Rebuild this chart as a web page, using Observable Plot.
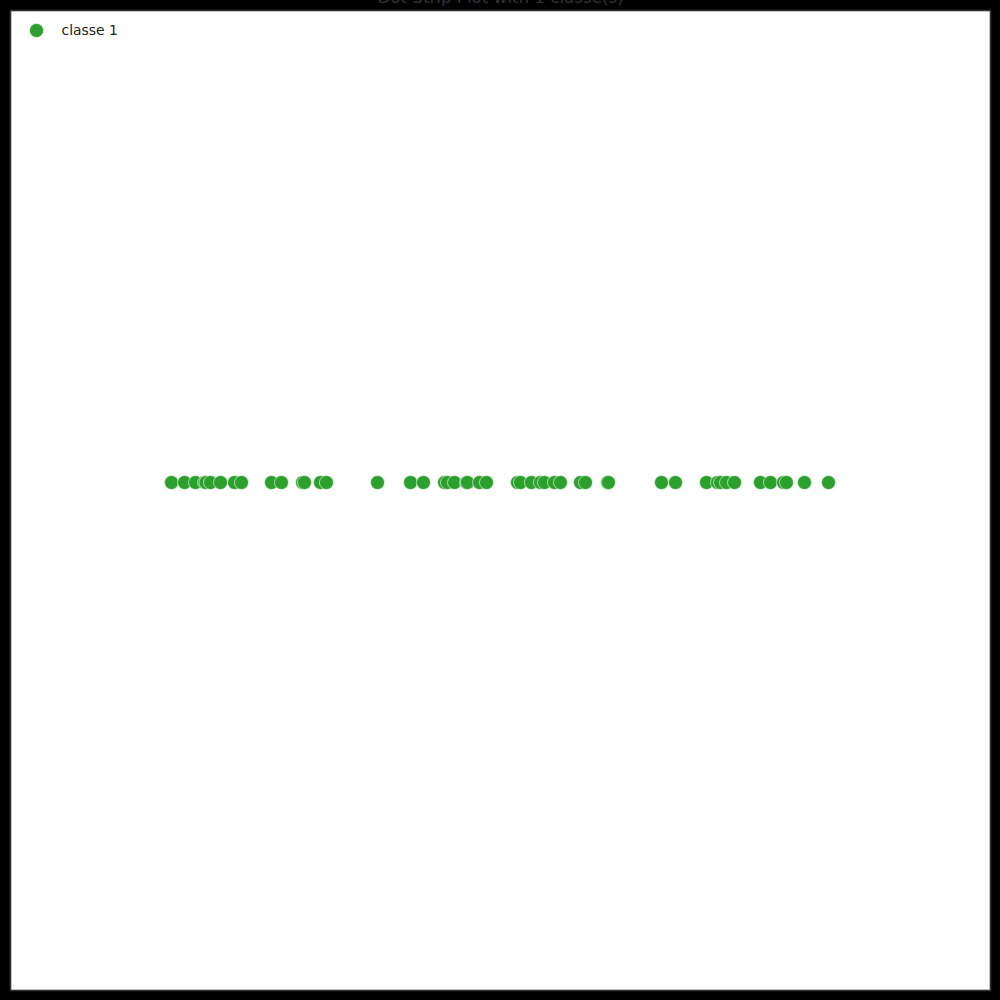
<!DOCTYPE html>
<html>
<head>
<meta charset="utf-8">
<script src="https://cdn.jsdelivr.net/npm/d3@7"></script>
<script src="https://cdn.jsdelivr.net/npm/@observablehq/plot@0.6"></script>
<style>
  html, body { margin: 0; padding: 0; background: #000; }
  #chart { width: 1000px; height: 1000px; }
</style>
</head>
<body>
<div id="chart"></div>
<script>
const title = "Dot Strip Plot with 1 classe(s)";
const classes = ["classe 1"];
const colors = ["#2ca02c"];
const values = [
  16.43, 17.76, 18.88, 19.80, 19.95, 20.41, 21.43, 22.86, 23.57, 26.63,
  27.65, 29.80, 30.00, 31.63, 32.24, 37.45, 40.82, 42.14, 44.29, 44.59,
  45.31, 46.53, 46.63, 47.86, 48.57, 51.73, 52.04, 53.16, 54.08, 54.49,
  55.51, 56.12, 58.16, 58.67, 60.92, 61.02, 66.43, 67.86, 71.02, 72.14,
  72.45, 73.06, 73.88, 76.53, 77.55, 78.88, 79.18, 81.02, 83.47
];

const data = values.map(v => ({value: v, cls: classes[0], pos: 0}));

const chart = Plot.plot({
  width: 1000,
  height: 1000,
  margin: 10,
  style: {background: "#000", fontFamily: "DejaVu Sans", overflow: "visible"},
  x: {domain: [0, 100], axis: null},
  y: {domain: [-1, 1], range: [954, 10], axis: null},
  color: {domain: classes, range: colors},
  marks: [
    Plot.frame({fill: "#fff", stroke: "#333", strokeWidth: 1.6}),
    Plot.dot(data, {x: "value", y: "pos", r: 7, fill: "cls", stroke: "#fff", strokeWidth: 0.6, fillOpacity: 1}),
    Plot.text([title], {text: d => d, frameAnchor: "top", lineAnchor: "bottom", dy: -8, fill: "#333", fontSize: 16.7, fontFamily: "DejaVu Sans"}),
    Plot.dot(classes, {frameAnchor: "top-left", dx: 26, dy: 20, r: 7, fill: d => d, stroke: "#fff", strokeWidth: 0.6}),
    Plot.text(classes, {text: d => d, frameAnchor: "top-left", dx: 51, dy: 20, textAnchor: "start", lineAnchor: "middle", fill: "#222", fontSize: 13.9, fontFamily: "DejaVu Sans"})
  ]
});
document.getElementById("chart").appendChild(chart);
</script>
</body>
</html>
